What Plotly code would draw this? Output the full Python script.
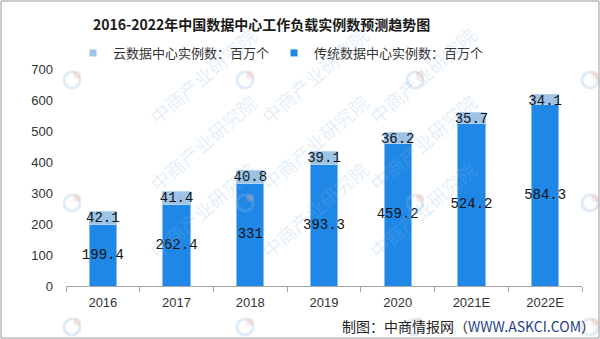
import plotly.graph_objects as go

# Workload instances in China's data centres, millions
years = ["2016", "2017", "2018", "2019", "2020", "2021E", "2022E"]
traditional = [199.4, 262.4, 331, 393.3, 459.2, 524.2, 584.3]
cloud = [42.1, 41.4, 40.8, 39.1, 36.2, 35.7, 34.1]
totals = [t + c for t, c in zip(traditional, cloud)]

W, H = 600, 339
ML, MR, MT, MB = 66, 18, 69, 53
PW, PH = W - ML - MR, H - MT - MB


def px_x(px):
    return (px - ML) / PW


def px_y(py):
    return (H - MB - py) / PH


DARK = "#1F87E6"
LIGHT = "#9DC3E6"
LABEL_FONT = dict(family="Liberation Mono, monospace", size=14, color="#111111")
CJK = "Noto Sans CJK SC, sans-serif"
NAME_TRAD = "传统数据中心实例数：百万个"
NAME_CLOUD = "云数据中心实例数：百万个"

fig = go.Figure()
fig.add_bar(
    x=years, y=traditional, name=NAME_TRAD, showlegend=False,
    marker=dict(color=DARK, line=dict(color="#86BDF0", width=1)),
    hoverinfo="skip",
)
fig.add_bar(
    x=years, y=cloud, name=NAME_CLOUD, showlegend=False,
    marker=dict(color=LIGHT, line=dict(color="#B5D3EE", width=1)),
    hoverinfo="skip",
)
# value labels
fig.add_scatter(
    x=years, y=[t / 2 for t in traditional], mode="text",
    text=[f"{v:g}" for v in traditional], textposition="middle center",
    textfont=LABEL_FONT, showlegend=False, hoverinfo="skip",
)
fig.add_scatter(
    x=years, y=totals, mode="text",
    text=[f"{v:g}" for v in cloud], textposition="bottom center",
    textfont=LABEL_FONT, showlegend=False, hoverinfo="skip",
)
# compact square legend keys
for name, color in [(NAME_CLOUD, LIGHT), (NAME_TRAD, DARK)]:
    fig.add_scatter(
        x=[None], y=[None], mode="markers", name=name,
        marker=dict(symbol="square", size=7, color=color),
    )

annotations = []
shapes = []

# faint diagonal watermark grid
for cx in [72, 245, 415, 590]:
    for cy in [80, 203, 327]:
        if cx < 500:
            annotations.append(dict(
                xref="paper", yref="paper", x=px_x(cx + 69), y=px_y(cy - 61),
                text="中商产业研究院", showarrow=False, textangle=-41,
                font=dict(family=CJK, size=19, color="rgba(140,185,225,0.24)"),
            ))
        shapes.append(dict(
            type="circle", xref="paper", yref="paper",
            x0=px_x(cx - 8), x1=px_x(cx + 8), y0=px_y(cy + 8), y1=px_y(cy - 8),
            line=dict(color="rgba(140,185,225,0.28)", width=3),
        ))
        shapes.append(dict(
            type="circle", xref="paper", yref="paper",
            x0=px_x(cx + 1), x1=px_x(cx + 9), y0=px_y(cy - 1), y1=px_y(cy - 9),
            fillcolor="rgba(245,175,150,0.28)", line=dict(width=0),
        ))

# chart title
annotations.append(dict(
    xref="paper", yref="paper", x=px_x(261), y=px_y(24),
    xanchor="center", yanchor="middle", showarrow=False,
    text="<b>2016-2022年中国数据中心工作负载实例数预测趋势图</b>",
    font=dict(family=CJK, size=14, color="#1a1a1a"),
))

# source note
annotations.append(dict(
    xref="paper", yref="paper", x=px_x(597), y=px_y(326),
    xanchor="right", yanchor="middle", showarrow=False,
    text="制图：中商情报网（<span style='color:#1f3f8c'>WWW.ASKCI.COM</span>）",
    font=dict(family=CJK, size=14, color="#222222"),
))

# outer frame
shapes.append(dict(
    type="rect", xref="paper", yref="paper",
    x0=px_x(1), x1=px_x(599), y0=px_y(338), y1=px_y(1),
    line=dict(color="#9a9a9a", width=1), layer="above",
))

fig.update_layout(
    width=W, height=H,
    margin=dict(l=ML, r=MR, t=MT, b=MB),
    paper_bgcolor="white", plot_bgcolor="white",
    barmode="stack", bargap=0.63,
    legend=dict(
        orientation="h", traceorder="normal",
        xref="paper", yref="paper",
        x=px_x(73), xanchor="left", y=px_y(53), yanchor="middle",
        font=dict(family=CJK, size=13, color="#333333"),
        bgcolor="rgba(0,0,0,0)",
    ),
    xaxis=dict(
        showline=True, linecolor="#a6a6a6", linewidth=1,
        ticks="outside", tickson="boundaries", ticklen=5, tickcolor="#a6a6a6",
        ticklabelstandoff=4,
        tickfont=dict(family="Liberation Sans, Arial", size=13, color="#333333"),
        showgrid=False, zeroline=False, fixedrange=True,
    ),
    yaxis=dict(
        range=[0, 700], dtick=100, showgrid=False, zeroline=False,
        showline=False, ticks="", ticklabelstandoff=12,
        tickfont=dict(family="Liberation Sans, Arial", size=13, color="#333333"),
        fixedrange=True,
    ),
    annotations=annotations, shapes=shapes,
    showlegend=True,
)

fig.write_html("out.html")
